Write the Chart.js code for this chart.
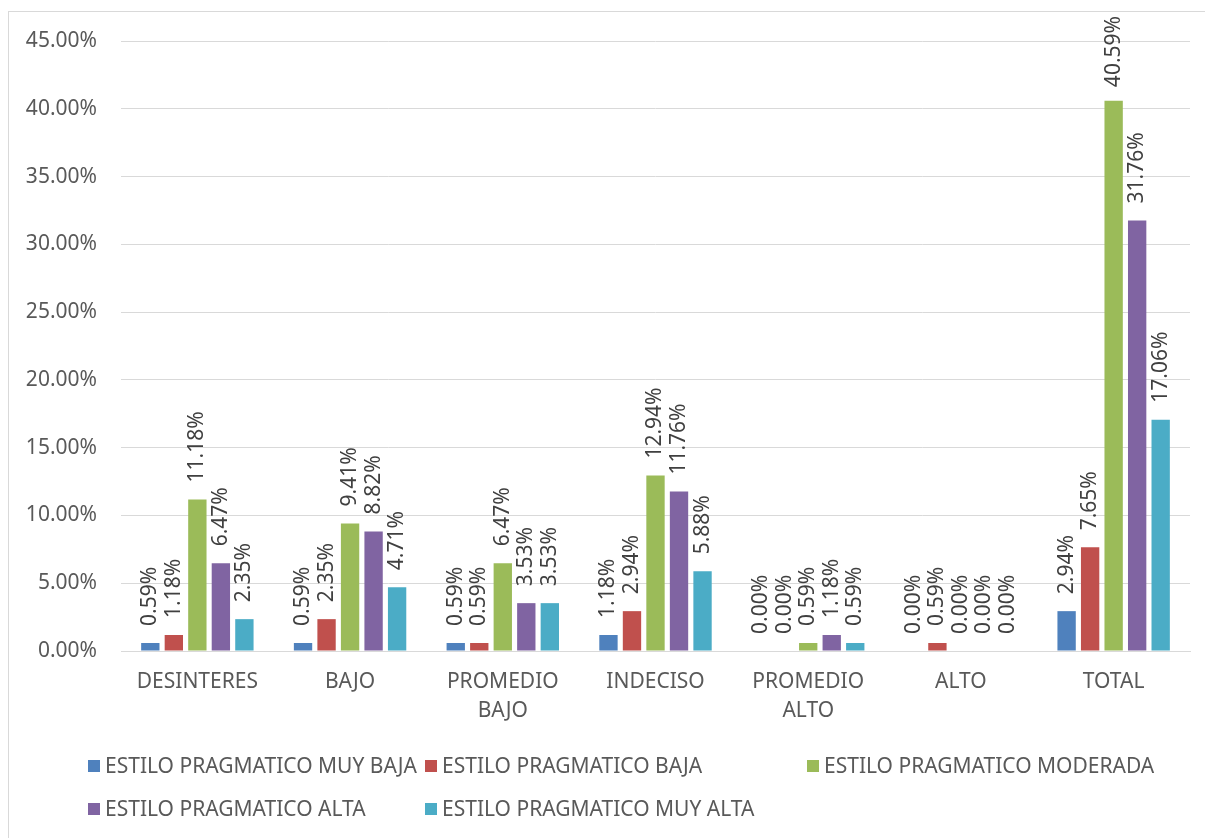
<!DOCTYPE html>
<html>
<head>
<meta charset="utf-8">
<script src="https://cdn.jsdelivr.net/npm/chart.js@4.4.1/dist/chart.umd.min.js"></script>
<style>
  html, body { margin: 0; padding: 0; background: #fff; overflow: hidden; }
  #frame {
    position: absolute; left: 8px; top: 11px; width: 1210px; height: 840px;
    border: 1px solid #d9d9d9; box-sizing: border-box;
  }
  #wrap { position: absolute; left: 0; top: 0; width: 1195px; height: 825px; }
  #legend {
    position: absolute; left: 79px; top: 743px;
    display: grid; grid-template-columns: 337px 382px auto; row-gap: 22px;
    font: 21px "Noto Sans", sans-serif; color: #595959; line-height: 21px;
  }
  .item { display: flex; align-items: center; white-space: nowrap; }
  .box { width: 12px; height: 12px; margin-right: 5px; flex: none; }
</style>
</head>
<body>
<div id="frame">
  <div id="wrap"><canvas id="chart"></canvas></div>
  <div id="legend"></div>
</div>
<script>
const categories = ['DESINTERES', 'BAJO', ['PROMEDIO', 'BAJO'], 'INDECISO', ['PROMEDIO', 'ALTO'], 'ALTO', 'TOTAL'];
const seriesNames = [
    'ESTILO PRAGMATICO MUY BAJA',
    'ESTILO PRAGMATICO BAJA',
    'ESTILO PRAGMATICO MODERADA',
    'ESTILO PRAGMATICO ALTA',
    'ESTILO PRAGMATICO MUY ALTA',
];
const seriesColors = ['#4f81bd', '#c0504d', '#9bbb59', '#8064a2', '#4bacc6'];
const muyBaja = [0.59, 0.59, 0.59, 1.18, 0.00, 0.00, 2.94];
const baja = [1.18, 2.35, 0.59, 2.94, 0.00, 0.59, 7.65];
const moderada = [11.18, 9.41, 6.47, 12.94, 0.59, 0.00, 40.59];
const alta = [6.47, 8.82, 3.53, 11.76, 1.18, 0.00, 31.76];
const muyAlta = [2.35, 4.71, 3.53, 5.88, 0.59, 0.00, 17.06];
const yTicks = [0, 5, 10, 15, 20, 25, 30, 35, 40, 45];

const seriesValues = [muyBaja, baja, moderada, alta, muyAlta];
const FONT = '"Noto Sans", sans-serif';

// value labels, rotated and placed above each bar
const barValueLabels = {
    id: 'barValueLabels',
    afterDatasetsDraw(chart) {
        const ctx = chart.ctx;
        ctx.save();
        ctx.font = '21px ' + FONT;
        ctx.fillStyle = '#404040';
        ctx.textAlign = 'left';
        ctx.textBaseline = 'middle';
        chart.data.datasets.forEach((ds, i) => {
            chart.getDatasetMeta(i).data.forEach((bar, j) => {
                const text = ds.data[j].toFixed(2) + '%';
                const w = ctx.measureText(text).width;
                let y = bar.y - 17;
                if (y - w < 4) y = 4 + w;
                ctx.save();
                ctx.translate(bar.x, y);
                ctx.rotate(-Math.PI / 2);
                ctx.fillText(text, 0, 0);
                ctx.restore();
            });
        });
        ctx.restore();
    },
};

new Chart(document.getElementById('chart'), {
    type: 'bar',
    data: {
        labels: categories,
        datasets: seriesNames.map((name, i) => ({
            label: name,
            data: seriesValues[i],
            backgroundColor: seriesColors[i],
            borderWidth: 0,
            categoryPercentage: 0.77,
            barPercentage: 0.78,
        })),
    },
    options: {
        responsive: true,
        maintainAspectRatio: false,
        animation: false,
        layout: { padding: { left: 17, right: 14, top: 29, bottom: 111 } },
        plugins: {
            legend: { display: false },
            tooltip: { enabled: false },
        },
        scales: {
            x: {
                grid: { display: false, drawTicks: false },
                border: { display: true, color: '#d9d9d9', width: 1 },
                ticks: {
                    color: '#595959',
                    padding: 17,
                    maxRotation: 0,
                    autoSkip: false,
                    font: { family: FONT, size: 21, lineHeight: 1.38 },
                },
                afterFit(axis) {
                    axis.height = 75;
                    axis.paddingLeft = 0;
                    axis.paddingRight = 0;
                },
            },
            y: {
                min: 0,
                max: 45,
                afterBuildTicks(axis) {
                    axis.ticks = yTicks.map(v => ({ value: v }));
                },
                grid: { color: '#d9d9d9', drawTicks: false },
                border: { display: false },
                ticks: {
                    color: '#595959',
                    padding: 24,
                    font: { family: FONT, size: 21 },
                    callback: v => v.toFixed(2) + '%',
                },
                afterFit(axis) {
                    axis.width = 95;
                    axis.paddingTop = 0;
                    axis.paddingBottom = 0;
                },
            },
        },
    },
    plugins: [barValueLabels],
});

const legend = document.getElementById('legend');
seriesNames.forEach((name, i) => {
    const item = document.createElement('div');
    item.className = 'item';
    const box = document.createElement('span');
    box.className = 'box';
    box.style.background = seriesColors[i];
    const label = document.createElement('span');
    label.textContent = name;
    item.appendChild(box);
    item.appendChild(label);
    legend.appendChild(item);
});
</script>
</body>
</html>
